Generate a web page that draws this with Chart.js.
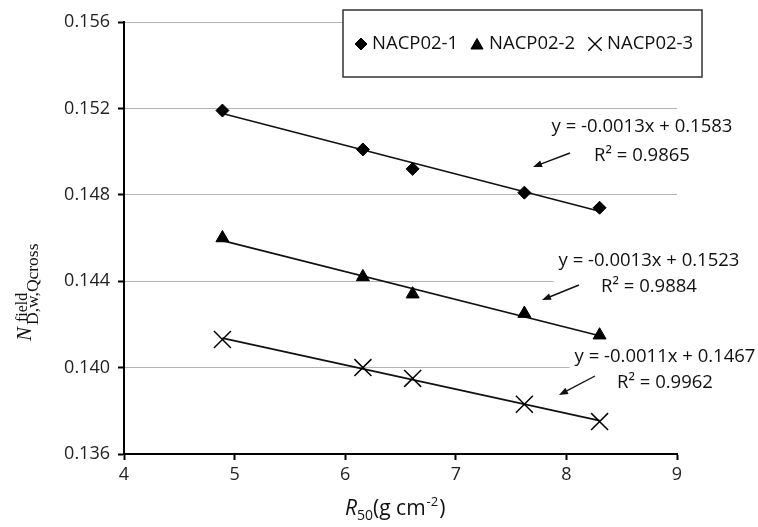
<!DOCTYPE html>
<html>
<head>
<meta charset="utf-8">
<script src="https://cdn.jsdelivr.net/npm/chart.js@4.4.0/dist/chart.umd.min.js"></script>
<style>
  body { margin: 0; background: #fff; }
  #wrap { width: 758px; height: 527px; }
</style>
</head>
<body>
<div id="wrap"><canvas id="chart"></canvas></div>
<script>
// R50 values (g cm-2) and N factors
const r50 = [4.89, 6.16, 6.61, 7.62, 8.30]
const nacp1 = [0.1519, 0.1501, 0.1492, 0.1481, 0.1474]
const nacp2 = [0.1460, 0.1442, 0.1434, 0.1425, 0.1415]
const nacp3 = [0.1413, 0.1400, 0.1395, 0.1383, 0.1375]
const seriesNames = ['NACP02-1', 'NACP02-2', 'NACP02-3']
const fitLabels = [
    ['y = -0.0013x + 0.1583', 'R² = 0.9865'],
    ['y = -0.0013x + 0.1523', 'R² = 0.9884'],
    ['y = -0.0011x + 0.1467', 'R² = 0.9962']
]
const xTicks = [4, 5, 6, 7, 8, 9]
const yTicks = [0.136, 0.140, 0.144, 0.148, 0.152, 0.156]

const FONT = "'Open Sans', sans-serif"
const SERIF = "'Liberation Serif', 'DejaVu Serif', serif"
const styles = [
    { pointStyle: 'rectRot', radius: 6.5, legendRadius: 6 },
    { pointStyle: 'triangle', radius: 7.5, legendRadius: 7 },
    { pointStyle: 'crossRot', radius: 12, legendRadius: 9.5 }
]

function points(ys) {
    return r50.map((x, i) => ({ x: x, y: ys[i] }))
}

// least squares trendline between first and last x
function trend(ys) {
    const n = r50.length
    let sx = 0, sy = 0, sxx = 0, sxy = 0
    for (let i = 0; i < n; i++) {
        sx += r50[i]; sy += ys[i]; sxx += r50[i] * r50[i]; sxy += r50[i] * ys[i]
    }
    const b = (n * sxy - sx * sy) / (n * sxx - sx * sx)
    const a = (sy - b * sx) / n
    const x0 = Math.min(...r50), x1 = Math.max(...r50)
    return [{ x: x0, y: a + b * x0 }, { x: x1, y: a + b * x1 }]
}

const allSeries = [nacp1, nacp2, nacp3]
const datasets = []
allSeries.forEach((ys, i) => {
    datasets.push({
        type: 'scatter',
        label: seriesNames[i],
        data: points(ys),
        pointStyle: styles[i].pointStyle,
        pointRadius: styles[i].radius,
        pointHoverRadius: styles[i].radius,
        backgroundColor: '#000',
        borderColor: '#000',
        borderWidth: i == 2 ? 1.5 : 1
    })
    datasets.push({
        type: 'line',
        label: seriesNames[i] + ' fit',
        data: trend(ys),
        borderColor: '#111',
        borderWidth: 1.6,
        pointRadius: 0,
        fill: false
    })
})

// annotation placement (canvas px)
const notes = [
    { cx: 642, y1: 127, y2: 156, arrow: [570, 153, 533, 167] },
    { cx: 649, y1: 261, y2: 287, arrow: [579, 285, 542, 300] },
    { cx: 665, y1: 357, y2: 383, arrow: [595, 376, 559, 395] }
]

function drawArrow(ctx, x0, y0, x1, y1) {
    const ang = Math.atan2(y1 - y0, x1 - x0)
    ctx.strokeStyle = '#111'
    ctx.fillStyle = '#111'
    ctx.lineWidth = 1.4
    ctx.beginPath()
    ctx.moveTo(x0, y0)
    ctx.lineTo(x1 - 6 * Math.cos(ang), y1 - 6 * Math.sin(ang))
    ctx.stroke()
    ctx.beginPath()
    ctx.moveTo(x1, y1)
    ctx.lineTo(x1 - 9 * Math.cos(ang) + 3.5 * Math.sin(ang), y1 - 9 * Math.sin(ang) - 3.5 * Math.cos(ang))
    ctx.lineTo(x1 - 9 * Math.cos(ang) - 3.5 * Math.sin(ang), y1 - 9 * Math.sin(ang) + 3.5 * Math.cos(ang))
    ctx.closePath()
    ctx.fill()
}

const extras = {
    id: 'extras',
    beforeDatasetsDraw(chart) {
        // white boxes behind the fit labels hide the grid
        const ctx = chart.ctx
        ctx.save()
        ctx.font = '18.5px ' + FONT
        ctx.fillStyle = '#fff'
        notes.forEach((n, i) => {
            const w = ctx.measureText(fitLabels[i][0]).width + 10
            ctx.fillRect(n.cx - w / 2, n.y1 - 12, w, n.y2 - n.y1 + 24)
        })
        ctx.restore()
    },
    afterDraw(chart) {
        const ctx = chart.ctx
        ctx.save()

        // legend box
        ctx.fillStyle = '#fff'
        ctx.fillRect(343, 10, 359, 67)
        ctx.strokeStyle = '#333'
        ctx.lineWidth = 1.5
        ctx.strokeRect(343, 10, 359, 67)
        const lx = [361, 477, 595]
        const tx = [372, 489, 607]
        ctx.font = '18.5px ' + FONT
        ctx.textBaseline = 'middle'
        ctx.textAlign = 'left'
        seriesNames.forEach((name, i) => {
            ctx.fillStyle = '#000'
            ctx.strokeStyle = '#000'
            ctx.lineWidth = i == 2 ? 1.4 : 1
            Chart.helpers.drawPoint(ctx, {
                pointStyle: styles[i].pointStyle,
                radius: styles[i].legendRadius,
                rotation: 0,
                borderWidth: ctx.lineWidth
            }, lx[i], i == 1 ? 45.5 : 44)
            ctx.fillStyle = '#111'
            ctx.fillText(name, tx[i], 44)
        })

        // fit equations + arrows
        ctx.font = '18.5px ' + FONT
        ctx.textAlign = 'center'
        ctx.fillStyle = '#111'
        notes.forEach((n, i) => {
            ctx.fillText(fitLabels[i][0], n.cx, n.y1)
            ctx.fillText(fitLabels[i][1], n.cx, n.y2)
            drawArrow(ctx, ...n.arrow)
        })

        // x axis title: R50(g cm-2)
        ctx.textAlign = 'left'
        ctx.textBaseline = 'alphabetic'
        let x = 345
        const by = 515
        ctx.font = 'italic 21px ' + FONT
        ctx.fillText('R', x, by); x += ctx.measureText('R').width
        ctx.font = '14px ' + FONT
        ctx.fillText('50', x, by + 5); x += ctx.measureText('50').width
        ctx.font = '21px ' + FONT
        ctx.fillText('(g cm', x, by); x += ctx.measureText('(g cm').width
        ctx.font = '13px ' + FONT
        ctx.fillText('-2', x + 1, by - 9); x += ctx.measureText('-2').width + 2
        ctx.font = '21px ' + FONT
        ctx.fillText(')', x, by)

        // y axis title: N^field_D,w,Qcross (rotated)
        ctx.translate(31, 341)
        ctx.rotate(-Math.PI / 2)
        ctx.font = 'italic 21px ' + SERIF
        ctx.fillText('N', 0, 0)
        ctx.font = '17.5px ' + SERIF
        ctx.fillText('D,w,Qcross', 16, 7)
        ctx.font = '16px ' + SERIF
        ctx.fillText('field', 19, -4)
        ctx.restore()
    }
}

new Chart(document.getElementById('chart'), {
    data: { datasets: datasets },
    options: {
        responsive: true,
        maintainAspectRatio: false,
        animation: false,
        layout: { padding: { top: 22, right: 81, left: 0, bottom: 0 } },
        plugins: {
            legend: { display: false },
            tooltip: { enabled: false }
        },
        scales: {
            x: {
                type: 'linear',
                min: xTicks[0],
                max: xTicks[xTicks.length - 1],
                afterBuildTicks: s => { s.ticks = xTicks.map(v => ({ value: v })) },
                afterFit: s => { s.height = 73 },
                ticks: { font: { family: FONT, size: 18 }, color: '#222', padding: 4 },
                grid: { drawOnChartArea: false, drawTicks: true, tickLength: 6, tickColor: '#000', tickWidth: 2 },
                border: { color: '#000', width: 2 }
            },
            y: {
                type: 'linear',
                min: yTicks[0],
                max: yTicks[yTicks.length - 1],
                afterBuildTicks: s => { s.ticks = yTicks.map(v => ({ value: v })) },
                afterFit: s => { s.width = 124 },
                ticks: {
                    font: { family: FONT, size: 18 }, color: '#222', padding: 8,
                    callback: v => v.toFixed(3)
                },
                grid: { color: '#b4b4b4', lineWidth: 1, tickLength: 6, tickColor: '#000', tickWidth: 2 },
                border: { color: '#000', width: 2 }
            }
        }
    },
    plugins: [extras]
})
</script>
</body>
</html>
